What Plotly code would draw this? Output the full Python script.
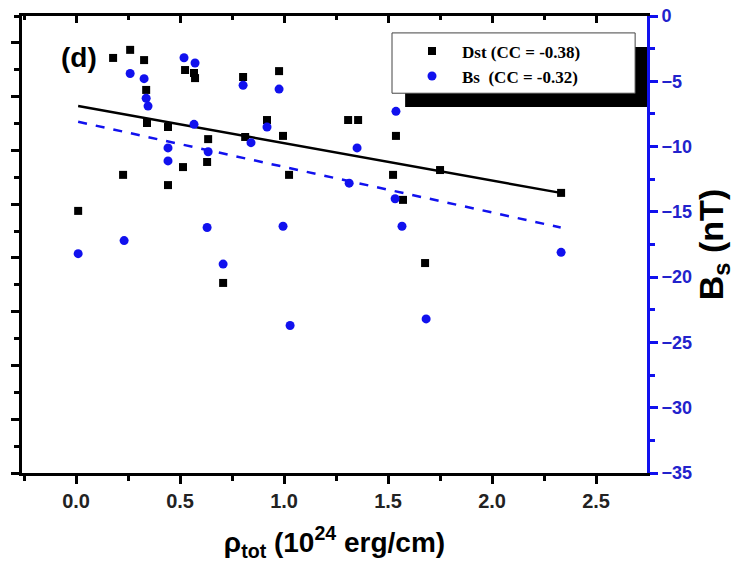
import plotly.graph_objects as go

# Dst events (left axis, labels cropped in the original)
dst_x = [0.178, 0.26, 0.327, 0.524, 0.567, 0.572, 0.803, 0.976, 0.337, 0.341,
         0.442, 0.635, 0.918, 0.995, 0.813, 1.308, 1.356, 0.514, 0.63, 0.226,
         0.442, 1.024, 0.01, 0.707, 1.538, 1.524, 1.572, 1.75, 2.332, 1.678]
dst_y = [-25.6, -22.6, -26.4, -30.1, -31.2, -33.1, -32.7, -30.5, -37.5, -49.8,
         -51.3, -55.8, -48.7, -54.6, -55.0, -48.7, -48.7, -66.2, -64.3, -69.1,
         -72.9, -69.1, -82.5, -109.3, -54.6, -69.1, -78.4, -67.3, -75.8, -101.9]

# Bs (right axis, nT)
bs_x = [0.519, 0.572, 0.26, 0.327, 0.337, 0.346, 0.803, 0.976, 0.567, 0.918,
        0.841, 0.442, 0.442, 0.635, 1.351, 1.313, 0.63, 0.995, 0.231, 0.01,
        0.707, 1.029, 1.538, 1.534, 1.567, 2.332, 1.683]
bs_y = [-3.2, -3.6, -4.4, -4.8, -6.3, -6.9, -5.3, -5.6, -8.3, -8.5,
        -9.7, -10.1, -11.1, -10.4, -10.1, -12.8, -16.2, -16.1, -17.2, -18.2,
        -19.0, -23.7, -7.3, -14.0, -16.1, -18.1, -23.2]

# linear fits, read at the ends of the data range
fit_x = [0.01, 2.33]
dst_fit = [-43.5, -75.8]
bs_fit = [-8.1, -16.2]

BLUE = "#1111ee"
FONT = "Liberation Sans, Arial, sans-serif"

xr = [-0.26, 2.745]
dst_range = [-180, -10]

fig = go.Figure()
fig.add_trace(go.Scatter(x=fit_x, y=dst_fit, mode="lines", showlegend=False,
                         line=dict(color="black", width=2.5)))
fig.add_trace(go.Scatter(x=fit_x, y=bs_fit, mode="lines", showlegend=False, yaxis="y2",
                         line=dict(color=BLUE, width=2.5, dash="dash")))
fig.add_trace(go.Scatter(x=dst_x, y=dst_y, mode="markers", name="Dst (CC = -0.38)",
                         marker=dict(symbol="square", size=8, color="black")))
fig.add_trace(go.Scatter(x=bs_x, y=bs_y, mode="markers", name="Bs&nbsp; (CC = -0.32)",
                         yaxis="y2", marker=dict(symbol="circle", size=9, color=BLUE)))
# invisible helper so the top frame axis (inside ticks) gets drawn
fig.add_trace(go.Scatter(x=xr, y=[dst_range[0] - 100] * 2, xaxis="x2", mode="lines",
                         line=dict(width=0), showlegend=False, hoverinfo="skip"))

# the page body has an 8px margin, so the margins below are shifted by 8px
fig.update_layout(
    width=749, height=563,
    margin=dict(l=14, r=110, t=8, b=98),
    plot_bgcolor="white", paper_bgcolor="white",
    font=dict(family=FONT, color="black"),
    xaxis=dict(range=xr, tickvals=[0, 0.5, 1.0, 1.5, 2.0, 2.5], tickformat=".1f",
               automargin=False, mirror=True,
               ticks="outside", ticklen=8, tickwidth=3, tickcolor="black",
               showline=True, linewidth=3, linecolor="black",
               showgrid=False, zeroline=False,
               minor=dict(dtick=0.25, tick0=0, ticks="outside", ticklen=5, tickwidth=3,
                          tickcolor="black", showgrid=False),
               tickfont=dict(size=20, weight="bold", color="#222"),
               title=dict(text="ρ<sub>tot</sub> (10<sup>24</sup> erg/cm)",
                          font=dict(size=28, weight="bold"), standoff=22)),
    xaxis2=dict(range=xr, overlaying="x", side="top", anchor="y", automargin=False,
                tickvals=[0, 0.5, 1.0, 1.5, 2.0, 2.5], showticklabels=False,
                ticks="inside", ticklen=7, tickwidth=3, tickcolor="black",
                showline=True, linewidth=3, linecolor="black",
                showgrid=False, zeroline=False,
                minor=dict(dtick=0.25, tick0=0, ticks="inside", ticklen=4, tickwidth=3,
                           tickcolor="black", showgrid=False)),
    yaxis=dict(range=dst_range, dtick=20, tick0=-180, showticklabels=False,
               automargin=False,
               ticks="outside", ticklen=8, tickwidth=3, tickcolor="black",
               showline=True, linewidth=3, linecolor="black",
               showgrid=False, zeroline=False,
               minor=dict(dtick=10, tick0=-180, ticks="outside", ticklen=5, tickwidth=3,
                          tickcolor="black", showgrid=False)),
    yaxis2=dict(range=[-35, 0], dtick=5, tick0=0, overlaying="y", side="right",
                automargin=False, ticklabeloverflow="allow",
                ticks="outside", ticklen=8, tickwidth=3, tickcolor=BLUE,
                showline=True, linewidth=3, linecolor=BLUE,
                showgrid=False, zeroline=False,
                minor=dict(dtick=2.5, tick0=0, ticks="outside", ticklen=5, tickwidth=3,
                           tickcolor=BLUE, showgrid=False),
                tickfont=dict(size=18, weight="bold", color="#2222cc"),
                title=dict(text="B<sub>s</sub> (nT)", font=dict(size=34, weight="bold"),
                           standoff=6)),
    legend=dict(x=0.608, y=0.962, xanchor="left", yanchor="top",
                bgcolor="rgba(0,0,0,0)", borderwidth=0, itemwidth=50,
                font=dict(family="Liberation Serif, Times New Roman, serif", size=17,
                          weight="bold")),
    shapes=[
        # legend shadow and box
        dict(type="rect", xref="paper", yref="paper", x0=0.613, x1=1.0, y0=0.801, y1=0.932,
             fillcolor="black", line=dict(width=0), layer="above"),
        dict(type="rect", xref="paper", yref="paper", x0=0.592, x1=0.981, y0=0.831, y1=0.963,
             fillcolor="white", line=dict(color="#444", width=1), layer="above"),
    ],
    annotations=[
        dict(text="(d)", xref="paper", yref="paper", x=0.091, y=0.91, showarrow=False,
             xanchor="center", yanchor="middle", font=dict(size=28, weight="bold")),
    ],
)

fig.write_html("out.html")
